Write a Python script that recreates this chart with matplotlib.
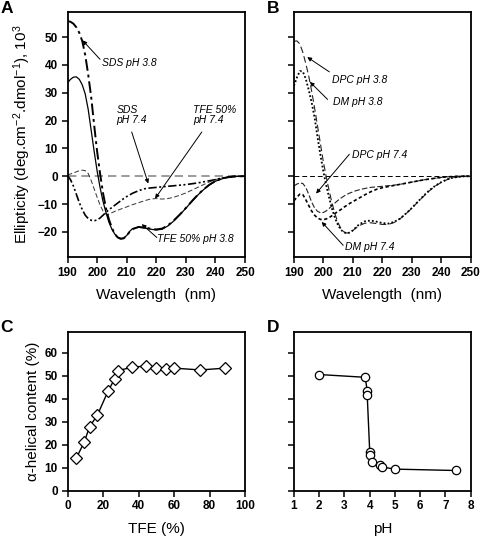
import matplotlib
matplotlib.use("Agg")
import matplotlib.pyplot as plt
import numpy as np

plt.rcParams['font.family'] = ['Liberation Sans', 'DejaVu Sans']
plt.rcParams['mathtext.fontset'] = 'custom'
plt.rcParams['mathtext.rm'] = 'Liberation Sans'
plt.rcParams['mathtext.it'] = 'Liberation Sans:italic'

# ---------------- data ----------------
wavelength = [190, 191, 192, 193, 194, 195, 196, 197, 198, 199, 200, 201, 202, 203, 204,
              205, 206, 207, 208, 209, 210, 211, 212,
              214, 216, 218, 220, 222, 224, 226, 228, 230, 232, 234, 236, 238, 240,
              242, 244, 246, 248, 250]

# Panel A
sds_ph38 = [55.7, 55.5, 54.8, 53.5, 51.5, 48.5, 43.5, 36.5, 28.5, 18.5, 9.0, 1.0, -6.0, -11.5, -15.5,
            -18.5, -20.8, -22.0, -22.5, -22.3, -21.3, -20.0, -19.0,
            -18.2, -18.4, -18.8, -19.1, -18.8, -17.6, -15.8, -13.7, -11.4, -9.0, -6.7, -4.7, -3.0, -1.7,
            -0.9, -0.4, -0.1, 0.0, 0.0]
tfe50_ph38 = [33.5, 34.8, 35.6, 35.7, 34.8, 32.8, 29.5, 24.0, 16.5, 9.0, 2.0, -4.0, -9.0, -13.0, -16.5,
              -19.0, -20.8, -21.9, -22.3, -22.2, -21.3, -19.8, -18.8,
              -18.3, -18.6, -19.0, -19.3, -19.0, -17.8, -16.0, -13.8, -11.5, -9.1, -6.8, -4.8, -3.1, -1.8,
              -1.0, -0.4, -0.1, 0.0, 0.0]
sds_ph74 = [0.3, -1.2, -3.5, -6.5, -9.5, -12.0, -14.0, -15.2, -15.8, -16.0, -15.7, -15.0, -14.0, -13.0, -12.0,
            -11.2, -10.4, -9.6, -8.8, -8.0, -7.3, -6.7, -6.1,
            -5.2, -4.5, -4.2, -4.0, -3.8, -3.6, -3.4, -3.2, -3.0, -2.7, -2.4, -2.0, -1.6, -1.2,
            -0.7, -0.3, -0.1, 0.0, 0.0]
tfe50_ph74 = [0.5, 0.8, 1.2, 1.6, 2.0, 2.2, 2.0, 1.0, -1.5, -4.5, -7.5, -10.3, -12.5, -13.6, -13.6,
              -13.1, -12.6, -12.2, -11.8, -11.4, -11.0, -10.6, -10.2,
              -9.5, -8.8, -8.2, -8.0, -8.2, -8.0, -7.5, -6.8, -6.0, -5.0, -4.0, -3.0, -2.0, -1.2,
              -0.6, -0.3, -0.1, 0.0, 0.0]

# Panel B
dpc_ph38 = [48.5, 48.6, 47.5, 44.5, 40.5, 36.0, 30.5, 24.5, 18.0, 11.5, 5.0, -0.5, -5.5, -10.0, -13.8,
            -16.8, -18.9, -20.0, -20.4, -20.2, -19.5, -18.6, -17.8,
            -16.9, -16.7, -17.0, -17.3, -17.3, -16.6, -15.3, -13.5, -11.5, -9.3, -7.2, -5.2, -3.5, -2.2,
            -1.2, -0.5, -0.2, 0.0, 0.0]
dm_ph38 = [32.5, 35.5, 37.8, 37.6, 35.0, 31.0, 26.5, 21.0, 14.0, 7.5, 1.5, -3.5, -8.0, -12.0, -15.2,
           -17.7, -19.3, -20.2, -20.5, -20.2, -19.4, -18.4, -17.4,
           -16.2, -15.9, -16.3, -16.8, -17.0, -16.4, -15.2, -13.4, -11.4, -9.2, -7.0, -5.0, -3.4, -2.1,
           -1.1, -0.5, -0.2, 0.0, 0.0]
dpc_ph74 = [-3.5, -2.8, -2.4, -2.6, -4.0, -6.5, -9.3, -11.4, -12.6, -13.1, -13.0, -12.4, -11.5, -10.5, -9.5,
            -8.6, -7.8, -7.1, -6.5, -6.0, -5.6, -5.2, -4.9,
            -4.4, -4.0, -3.8, -3.6, -3.4, -3.2, -2.9, -2.5, -2.1, -1.7, -1.3, -1.0, -0.7, -0.4,
            -0.2, -0.1, 0.0, 0.0, 0.0]
dm_ph74 = [-8.8, -7.5, -6.4, -6.6, -8.4, -10.5, -12.5, -14.0, -15.0, -15.5, -15.6, -15.3, -14.8, -14.1, -13.3,
           -12.6, -11.9, -11.1, -10.4, -9.7, -9.1, -8.5, -7.9,
           -6.7, -5.6, -4.7, -4.1, -3.7, -3.3, -2.9, -2.5, -2.1, -1.7, -1.3, -1.0, -0.7, -0.4,
           -0.2, -0.1, 0.0, 0.0, 0.0]

# Panel C
tfe_percent = [4.9, 9.4, 12.4, 16.9, 22.9, 26.5, 28.3, 36.6, 44.1, 50.1, 55.3, 59.8, 74.9, 88.9]
helix_tfe = [14.1, 21.1, 27.8, 33.0, 43.5, 48.6, 52.3, 53.8, 54.3, 53.6, 53.0, 53.4, 52.6, 53.4]

# Panel D
ph_values = [2.0, 3.82, 3.9, 3.9, 4.0, 4.0, 4.1, 4.4, 4.5, 5.0, 7.4]
helix_ph = [50.6, 49.4, 43.6, 41.8, 16.9, 15.5, 12.5, 11.2, 10.3, 9.4, 8.8]

wl_ticks = [190, 200, 210, 220, 230, 240, 250]
ell_ticks = [-20, -10, 0, 10, 20, 30, 40, 50]
tfe_ticks = [0, 20, 40, 60, 80, 100]
helix_ticks = [0, 10, 20, 30, 40, 50, 60]
ph_ticks = [1, 2, 3, 4, 5, 6, 7, 8]

# ---------------- figure ----------------
fig = plt.figure(figsize=(4.8, 5.39), dpi=100)
W, H = 480, 539

def add_ax(x0, y0, x1, y1):
    return fig.add_axes([x0 / W, 1 - y1 / H, (x1 - x0) / W, (y1 - y0) / H])

axA = add_ax(67.5, 12, 245, 257)
axB = add_ax(294, 12, 470.7, 257)
axC = add_ax(67.5, 332.3, 245, 490.7)
axD = add_ax(294, 332.3, 470.7, 490.7)

tick_fs = 8.5
lab_fs = 11
ann_fs = 7.5

for ax in (axA, axB, axC, axD):
    for s in ax.spines.values():
        s.set_linewidth(1.3)
    ax.tick_params(direction='out', length=4.5, width=1.1, labelsize=tick_fs, pad=2.5)

# Panel A
axA.axhline(0, color='#8a8a8a', lw=1.2, dashes=(5, 3))
axA.plot(wavelength, tfe50_ph74, color='#333333', lw=0.7, dashes=(5, 2.5))
axA.plot(wavelength, sds_ph74, color='k', lw=1.2, dashes=(5, 1.5, 1.2, 1.5, 1.2, 1.5))
axA.plot(wavelength, tfe50_ph38, color='k', lw=0.9)
axA.plot(wavelength, sds_ph38, color='k', lw=1.4, dashes=(6, 2, 1.5, 2))
axA.set_xlim(190, 250)
axA.set_ylim(-29, 59)
axA.set_xticks(wl_ticks)
axA.set_yticks(ell_ticks)
axA.set_xlabel('Wavelength  (nm)', fontsize=lab_fs, labelpad=7)
axA.set_ylabel('Ellipticity (deg.cm$^{-2}$.dmol$^{-1}$), 10$^{3}$', fontsize=lab_fs, labelpad=3)

# Panel B
axB.axhline(0, color='k', lw=0.7, dashes=(5, 3))
axB.plot(wavelength, dpc_ph74, color='#222222', lw=0.8, dashes=(5, 2))
axB.plot(wavelength, dm_ph74, color='k', lw=1.2, dashes=(2, 1.5))
axB.plot(wavelength, dpc_ph38, color='#222222', lw=0.8, dashes=(6, 3))
axB.plot(wavelength, dm_ph38, color='k', lw=1.3, dashes=(1, 1.2))
axB.set_xlim(190, 250)
axB.set_ylim(-29, 59)
axB.set_xticks(wl_ticks)
axB.set_yticks(ell_ticks)
axB.set_yticklabels([])
axB.set_xlabel('Wavelength  (nm)', fontsize=lab_fs, labelpad=7)

def note(ax, text, tx, ty, tail, tip):
    ax.text(tx, ty, text, fontsize=ann_fs, style='italic', ha='left', va='center',
            linespacing=1.05)
    ax.annotate('', xy=tip, xytext=tail,
                arrowprops=dict(arrowstyle='-|>', lw=0.7, color='k',
                                mutation_scale=6, shrinkA=0, shrinkB=0))

note(axA, 'SDS pH 3.8', 201.6, 40.6, (201.0, 42.0), (195.1, 48.8))
note(axA, 'SDS\npH 7.4', 206.6, 21.9, (211.7, 15.9), (217.3, -2.6))
note(axA, 'TFE 50%\npH 7.4', 232.5, 21.9, (235.4, 15.9), (219.6, -8.0))
note(axA, 'TFE 50% pH 3.8', 220.4, -22.7, (220.2, -22.0), (215.1, -17.2))

note(axB, 'DPC pH 3.8', 202.8, 34.5, (202.0, 37.5), (194.5, 42.8))
note(axB, 'DM pH 3.8', 203.1, 26.7, (201.4, 27.6), (195.4, 33.9))
note(axB, 'DPC pH 7.4', 209.6, 7.5, (208.8, 7.9), (197.5, -6.2))
note(axB, 'DM pH 7.4', 207.3, -25.4, (206.7, -24.8), (199.4, -16.4))

# Panel C
axC.plot(tfe_percent, helix_tfe, color='k', lw=1.0, marker='D', markersize=6,
         markerfacecolor='white', markeredgecolor='k', markeredgewidth=0.9)
axC.set_xlim(0, 100)
axC.set_ylim(0, 69)
axC.set_xticks(tfe_ticks)
axC.set_yticks(helix_ticks)
axC.set_xlabel('TFE (%)', fontsize=lab_fs, labelpad=7)
axC.set_ylabel('α-helical content (%)', fontsize=lab_fs, labelpad=3)

# Panel D
axD.plot(ph_values, helix_ph, color='k', lw=1.0, marker='o', markersize=6,
         markerfacecolor='white', markeredgecolor='k', markeredgewidth=0.9)
axD.set_xlim(1, 8)
axD.set_ylim(0, 69)
axD.set_xticks(ph_ticks)
axD.set_yticks(helix_ticks)
axD.set_yticklabels([])
axD.set_xlabel('pH', fontsize=lab_fs, labelpad=7)

for ax in (axA, axB, axC, axD):
    for lbl in ax.get_xticklabels() + ax.get_yticklabels():
        lbl.set_fontweight('bold')
        lbl.set_fontsize(tick_fs)

# Panel letters
for letter, x, y in (('A', 1, 1), ('B', 267, 1), ('C', 0, 320), ('D', 267, 320)):
    fig.text(x / W, 1 - y / H, letter, fontsize=12.5, fontweight='bold', ha='left', va='top')

fig.savefig('out.png', dpi=100)
